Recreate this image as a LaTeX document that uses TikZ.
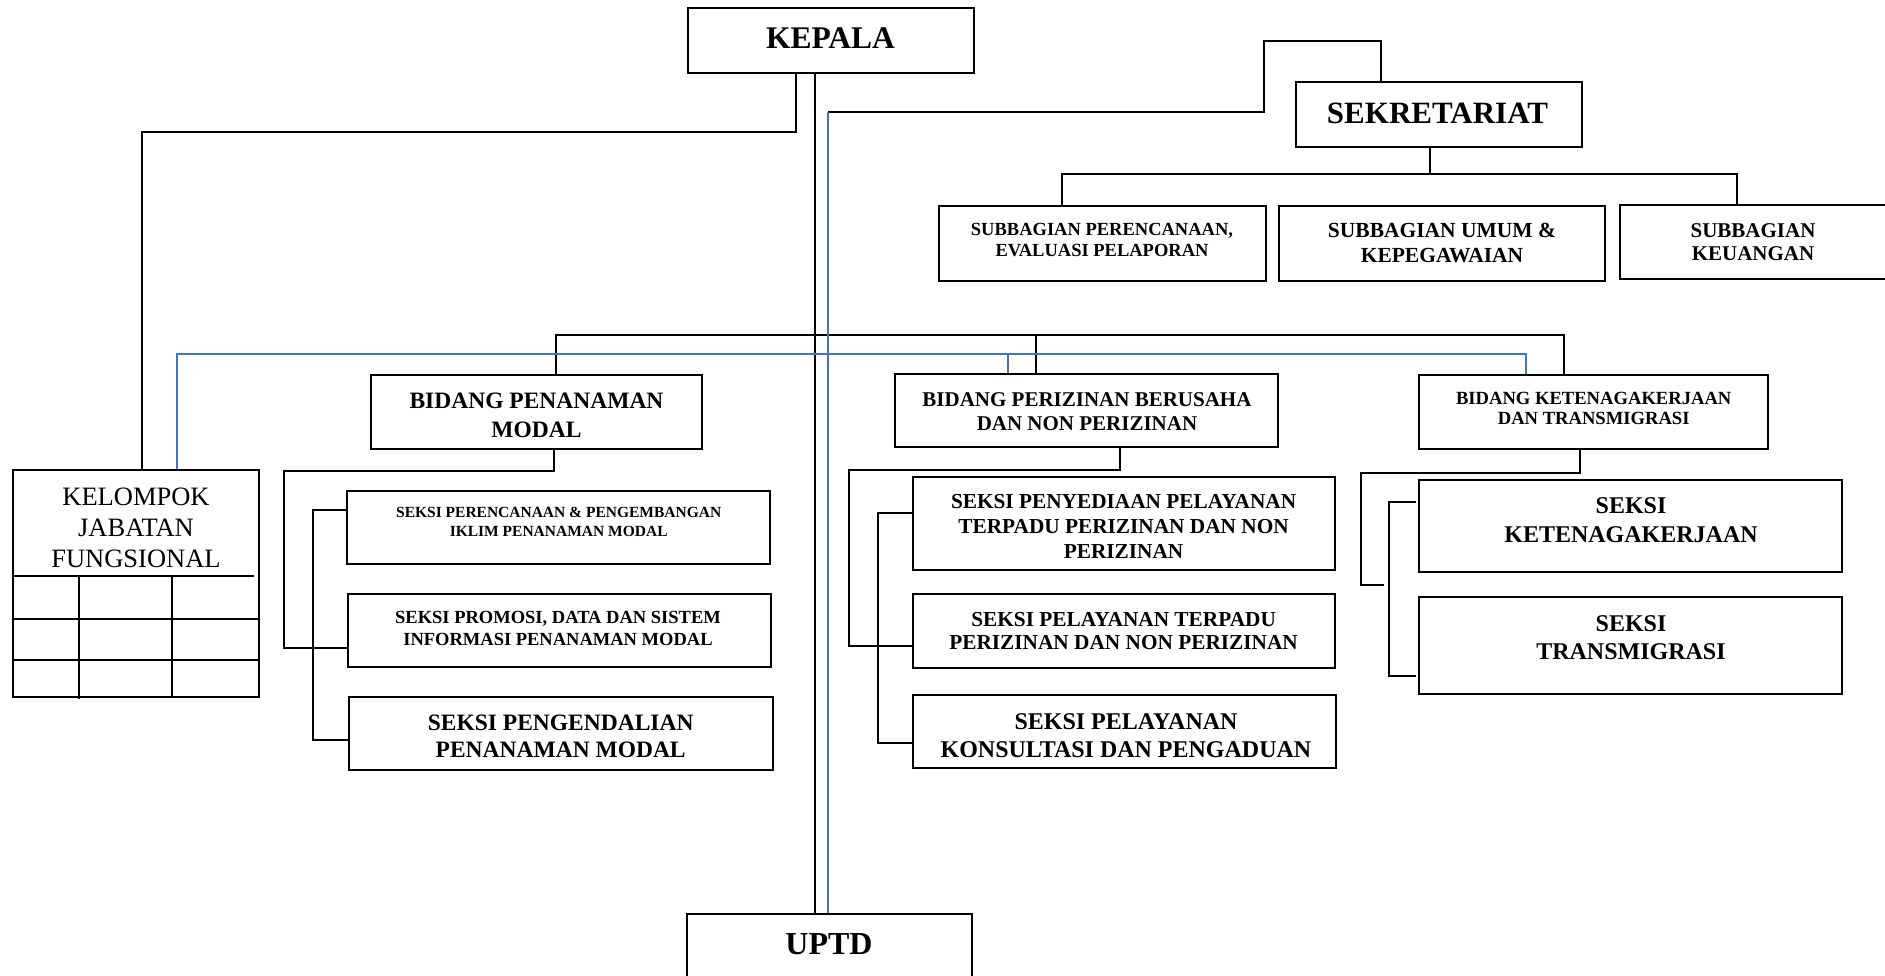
\documentclass[tikz,border=0pt]{standalone}
\usepackage{fontspec}
\setmainfont{Liberation Serif}
\definecolor{lblue}{HTML}{4472C4}
\newcommand\fsz[2]{\fontsize{#1}{#2}\selectfont}
\tikzset{
  orgbox/.style={draw=black, line width=1.8pt, inner sep=0pt, rectangle},
  lbl/.style 2 args={anchor=north, inner sep=0pt, align=center, font=\fsz{#1}{#2}\bfseries},
  conn/.style={draw=black, line width=1.8pt},
  bconn/.style={draw=lblue, line width=1.8pt},
}
\newcommand\orgbx[5]{\node[orgbox, minimum width={#4pt-#2pt}, minimum height={#5pt-#3pt}] (#1) at ({(#2+#4)/2},{(#3+#5)/2}) {};}
\begin{document}
\begin{tikzpicture}[x=1pt,y=-1pt]
\useasboundingbox (0,0) rectangle (1885,976);
\clip (0,0) rectangle (1885,976);
\fill[white] (0,0) rectangle (1885,976);

% boxes
\orgbx{kepala}{688}{8}{974}{73}
\orgbx{sekr}{1296}{82}{1582}{147}
\orgbx{subp}{939}{206}{1266}{281}
\orgbx{subu}{1279}{206}{1605}{281}
\orgbx{subk}{1620}{205}{1892}{279}
\orgbx{bpm}{371}{375}{702}{449}
\orgbx{bpb}{895}{374}{1278}{447}
\orgbx{bkt}{1419}{375}{1768}{449}
\orgbx{kel}{13}{470}{259}{697}
\orgbx{spm1}{347}{491}{770}{564}
\orgbx{spm2}{348}{594}{771}{667}
\orgbx{spm3}{349}{697}{773}{770}
\orgbx{spb1}{913}{477}{1335}{570}
\orgbx{spb2}{913}{594}{1335}{668}
\orgbx{spb3}{913}{695}{1336}{768}
\orgbx{skt1}{1419}{480}{1842}{572}
\orgbx{skt2}{1419}{597}{1842}{694}
\orgbx{uptd}{687}{914}{972}{995}

% labels
\node[lbl={31.5}{36}] (kepala-t) at (830.5,28) {KEPALA};
\node[lbl={31}{36}] (sekr-t) at (1437.5,103) {SEKRETARIAT};
\node[lbl={32}{36}] (uptd-t) at (829,933) {UPTD};
\node[lbl={18.5}{21}] (subp-t) at (1102,223) {SUBBAGIAN PERENCANAAN,\\EVALUASI PELAPORAN};
\node[lbl={21.5}{25}] (subu-t) at (1442,223) {SUBBAGIAN UMUM \&\\KEPEGAWAIAN};
\node[lbl={21}{23}] (subk-t) at (1753,223) {SUBBAGIAN\\KEUANGAN};
\node[lbl={23.5}{29}] (bpm-t) at (536.5,393) {BIDANG PENANAMAN\\MODAL};
\node[lbl={21}{24}] (bpb-t) at (1087,392) {BIDANG PERIZINAN BERUSAHA\\DAN NON PERIZINAN};
\node[lbl={18.6}{20}] (bkt-t) at (1593.7,392) {BIDANG KETENAGAKERJAAN\\DAN TRANSMIGRASI};
\node[anchor=north, inner sep=0pt, align=center, font=\fsz{26.5}{31}] (kel-t) at (136,488) {KELOMPOK\\JABATAN\\FUNGSIONAL};
\node[lbl={15.5}{19}] (spm1-t) at (558.7,507) {SEKSI PERENCANAAN \& PENGEMBANGAN\\IKLIM PENANAMAN MODAL};
\node[lbl={18.5}{22}] (spm2-t) at (558,611) {SEKSI PROMOSI, DATA DAN SISTEM\\INFORMASI PENANAMAN MODAL};
\node[lbl={23.5}{27}] (spm3-t) at (560.7,715) {SEKSI PENGENDALIAN\\PENANAMAN MODAL};
\node[lbl={21.3}{25}] (spb1-t) at (1123.6,494) {SEKSI PENYEDIAAN PELAYANAN\\TERPADU PERIZINAN DAN NON\\PERIZINAN};
\node[lbl={21.3}{23}] (spb2-t) at (1123.6,612) {SEKSI PELAYANAN TERPADU\\PERIZINAN DAN NON PERIZINAN};
\node[lbl={24}{28}] (spb3-t) at (1126,713) {SEKSI PELAYANAN\\KONSULTASI DAN PENGADUAN};
\node[lbl={24}{29}] (skt1-t) at (1631,497) {SEKSI\\KETENAGAKERJAAN};
\node[lbl={24}{28}] (skt2-t) at (1631,615) {SEKSI\\TRANSMIGRASI};

% kelompok table
\draw[conn] (14,576) -- (254,576);
\draw[conn] (kel.west |- 0,619) -- (kel.east |- 0,619);
\draw[conn] (kel.west |- 0,660) -- (kel.east |- 0,660);
\draw[conn] (79,576) -- (79,699);
\draw[conn] (172,576) -- (172,697);

% kepala -> kelompok
\coordinate (ka) at (796,132);
\coordinate (kb) at (142,132);
\draw[conn] (kepala.south -| ka) -- (ka) -- (kb) -- (kel.north -| kb);
% kepala -> uptd
\coordinate (cx) at (815,0);
\draw[conn] (kepala.south -| cx) -- (uptd.north -| cx);
% sekretariat link
\coordinate (s0) at (828,112);
\coordinate (s1) at (1264,112);
\coordinate (s2) at (1264,41);
\coordinate (s3) at (1381,41);
\draw[conn] (s0) -- (s1) -- (s2) -- (s3) -- (sekr.north -| s3);
% sekretariat subs
\coordinate (t0) at (1430,174);
\coordinate (t1) at (1062,174);
\coordinate (t2) at (1737,174);
\draw[conn] (sekr.south -| t0) -- (t0);
\draw[conn] (subp.north -| t1) -- (t1) -- (t2) -- (subk.north -| t2);
% bidang bus
\coordinate (b0) at (556,335);
\coordinate (b1) at (1036,335);
\coordinate (b2) at (1564,335);
\draw[conn] (bpm.north -| b0) -- (b0) -- (b2) -- (bkt.north -| b2);
\draw[conn] (b1) -- (bpb.north -| b1);
% bpm seksi
\coordinate (p0) at (554,471);
\coordinate (p1) at (284,471);
\coordinate (p2) at (284,648);
\draw[conn] (bpm.south -| p0) -- (p0) -- (p1) -- (p2) -- (spm2.west |- p2);
\coordinate (p3) at (313,510);
\coordinate (p4) at (313,740);
\draw[conn] (spm1.west |- p3) -- (p3) -- (p4) -- (spm3.west |- p4);
% bpb seksi
\coordinate (q0) at (1120,470);
\coordinate (q1) at (849,470);
\coordinate (q2) at (849,646);
\draw[conn] (bpb.south -| q0) -- (q0) -- (q1) -- (q2) -- (spb2.west |- q2);
\coordinate (q3) at (878,513);
\coordinate (q4) at (878,743);
\draw[conn] (spb1.west |- q3) -- (q3) -- (q4) -- (spb3.west |- q4);
% bkt seksi
\coordinate (r0) at (1580,473);
\coordinate (r1) at (1361,473);
\coordinate (r2) at (1361,585);
\coordinate (r2e) at (1384,585);
\draw[conn] (bkt.south -| r0) -- (r0) -- (r1) -- (r2) -- (r2e);
\coordinate (r3) at (1389,502);
\coordinate (r3e) at (1416,502);
\coordinate (r4) at (1389,676);
\coordinate (r4e) at (1416,676);
\draw[conn] (r3e) -- (r3) -- (r4) -- (r4e);

% blue lines
\draw[bconn] (s0) -- (uptd.north -| s0);
\coordinate (l0) at (177,354);
\coordinate (l1) at (1008,354);
\coordinate (l2) at (1526,354);
\draw[bconn] (kel.north -| l0) -- (l0) -- (l2) -- (bkt.north -| l2);
\draw[bconn] (l1) -- (bpb.north -| l1);
\end{tikzpicture}
\end{document}
